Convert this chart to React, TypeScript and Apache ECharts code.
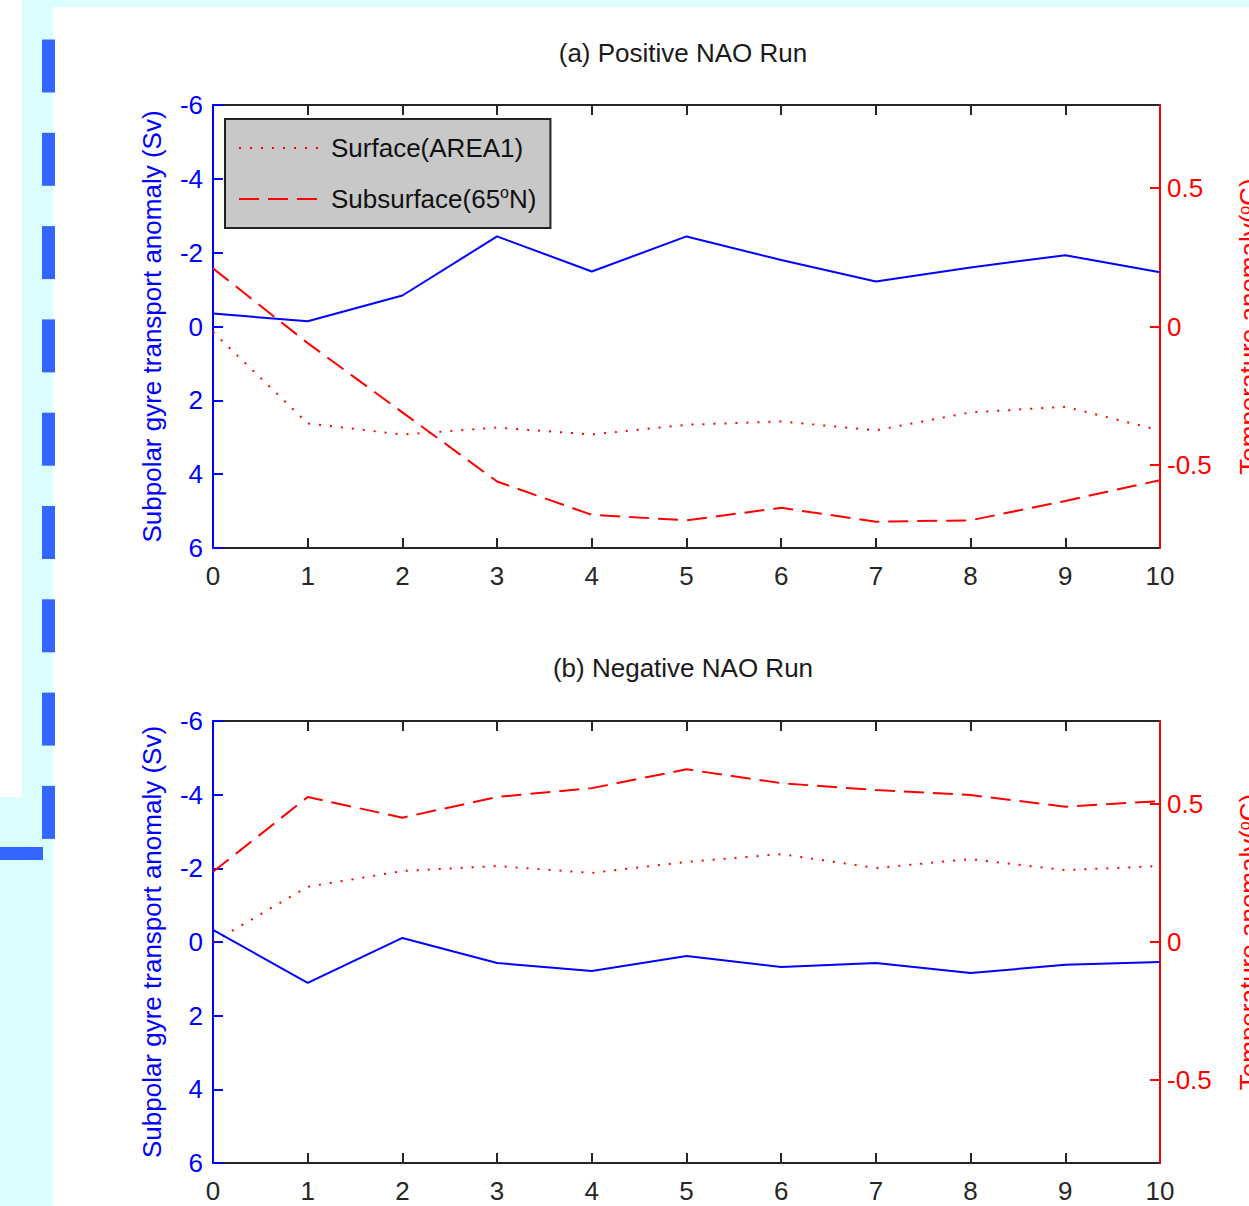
import React, { useEffect, useRef } from 'react';
import * as echarts from 'echarts';

// ---- data ----
const years = [0, 1, 2, 3, 4, 5, 6, 7, 8, 9, 10];
// (a) Positive NAO run
const posTransport = [-0.35, -0.14, -0.84, -2.44, -1.49, -2.44, -1.8, -1.22, -1.6, -1.93, -1.47];
const posSurface = [-0.02, -0.35, -0.39, -0.365, -0.39, -0.355, -0.343, -0.375, -0.31, -0.29, -0.375];
const posSubsurface = [0.21, -0.06, -0.31, -0.56, -0.68, -0.7, -0.655, -0.705, -0.7, -0.63, -0.555];
// (b) Negative NAO run
const negTransport = [-0.33, 1.11, -0.11, 0.57, 0.79, 0.38, 0.68, 0.57, 0.84, 0.62, 0.54];
const negSurface = [0.0, 0.2, 0.257, 0.275, 0.25, 0.29, 0.318, 0.268, 0.3, 0.26, 0.275];
const negSubsurface = [0.254, 0.525, 0.45, 0.525, 0.557, 0.625, 0.575, 0.55, 0.532, 0.49, 0.51];

const rightTickValues = [-0.5, 0, 0.5];
const panelTitles = ['(a) Positive NAO Run', '(b) Negative NAO Run'];
const legendNames = ['Surface(AREA1)', 'Subsurface(65oN)'];
const leftAxisName = 'Subpolar gyre transport anomaly (Sv)';
const rightAxisName = 'Temperature anomaly({sup|o}C)';

const FONT = '"Liberation Sans", Arial, Helvetica, sans-serif';
const BLUE = '#0000ff';
const RED = '#ff0000';
const BLACK = '#262626';
const FS = 26;

const pairs = (v: number[]) => years.map((x, i) => [x, v[i]]);

export default function App() {
  const ref = useRef<HTMLDivElement>(null);
  useEffect(() => {
    if (!ref.current) return;
    const chart = echarts.init(ref.current, null, { renderer: 'svg' });

    const grids = [
      { left: 213, top: 105, width: 947, height: 443, outerBoundsMode: 'none', containLabel: false },
      { left: 213, top: 721, width: 947, height: 442, outerBoundsMode: 'none', containLabel: false },
    ];

    const xAxes: any[] = [];
    const yAxes: any[] = [];
    grids.forEach((_, gi) => {
      const base = {
        type: 'value',
        gridIndex: gi,
        min: 0,
        max: 10,
        interval: 1,
        axisLine: { onZero: false, lineStyle: { color: BLACK, width: 2 } },
        axisTick: { inside: true, length: 10, lineStyle: { color: BLACK, width: 2 } },
        splitLine: { show: false },
      };
      xAxes.push({
        ...base,
        position: 'bottom',
        axisLabel: { color: BLACK, fontSize: FS, fontFamily: FONT, margin: 15 },
      });
      xAxes.push({ ...base, position: 'top', axisLabel: { show: false } });

      yAxes.push({
        type: 'value',
        gridIndex: gi,
        position: 'left',
        inverse: true,
        min: -6,
        max: 6,
        interval: 2,
        name: leftAxisName,
        nameLocation: 'middle',
        nameGap: 48,
        nameTextStyle: { color: BLUE, fontSize: FS, fontFamily: FONT },
        axisLine: { show: true, onZero: false, lineStyle: { color: BLUE, width: 2 } },
        axisTick: { show: true, inside: true, length: 10, lineStyle: { color: BLUE, width: 2 } },
        axisLabel: { color: BLUE, fontSize: FS, fontFamily: FONT, margin: 10 },
        splitLine: { show: false },
        z: 3,
      });
      yAxes.push({
        type: 'value',
        gridIndex: gi,
        position: 'right',
        min: -0.8,
        max: 0.8,
        name: rightAxisName,
        nameLocation: 'middle',
        nameGap: 76,
        nameTextStyle: {
          color: RED,
          fontSize: FS,
          fontFamily: FONT,
          rich: { sup: { color: RED, fontSize: 16, fontFamily: FONT, verticalAlign: 'top', lineHeight: 14 } },
        },
        axisLine: { show: true, onZero: false, lineStyle: { color: RED, width: 2 } },
        axisTick: { show: true, inside: true, length: 10, customValues: rightTickValues, lineStyle: { color: RED, width: 2 } },
        axisLabel: { customValues: rightTickValues, color: RED, fontSize: FS, fontFamily: FONT, margin: 7 },
        splitLine: { show: false },
        z: 3,
      });
    });

    const dotted = { color: RED, width: 2, type: [2, 9] };
    const dashed = { color: RED, width: 2, type: [20, 9] };
    const solid = { color: BLUE, width: 2 };
    const mk = (name: string, data: number[], xi: number, yi: number, ls: any) => ({
      type: 'line',
      name,
      xAxisIndex: xi,
      yAxisIndex: yi,
      data: pairs(data),
      symbol: 'none',
      showSymbol: false,
      lineStyle: ls,
      itemStyle: { color: ls.color },
      z: ls.color === BLUE ? 4 : 3,
    });

    const series = [
      mk('Transport (a)', posTransport, 0, 0, solid),
      mk(legendNames[0], posSurface, 0, 1, dotted),
      mk(legendNames[1], posSubsurface, 0, 1, dashed),
      mk('Transport (b)', negTransport, 2, 2, solid),
      mk('Surface(AREA1) (b)', negSurface, 2, 3, dotted),
      mk('Subsurface(65oN) (b)', negSubsurface, 2, 3, dashed),
    ];

    const deco: any[] = [
      { type: 'rect', shape: { x: 22, y: 0, width: 31, height: 1206 }, style: { fill: '#dbffff' }, silent: true },
      { type: 'rect', shape: { x: 22, y: 0, width: 1227, height: 7 }, style: { fill: '#dbffff' }, silent: true },
      { type: 'rect', shape: { x: 0, y: 797, width: 22, height: 409 }, style: { fill: '#dbffff' }, silent: true },
      { type: 'rect', shape: { x: 0, y: 847, width: 43, height: 13 }, style: { fill: '#3366ff' }, silent: true },
    ];
    for (let k = 0; k < 9; k++) {
      deco.push({
        type: 'rect',
        shape: { x: 42, y: 39.5 + k * 93.3, width: 13, height: 53 },
        style: { fill: '#3366ff' },
        silent: true,
      });
    }

    chart.setOption({
      animation: false,
      backgroundColor: '#ffffff',
      title: panelTitles.map((t, i) => ({
        text: t,
        left: 683,
        top: i === 0 ? 40 : 655,
        padding: 0,
        textAlign: 'center',
        textStyle: { color: '#1a1a1a', fontSize: FS, fontWeight: 'normal', fontFamily: FONT },
      })),
      legend: {
        data: legendNames,
        orient: 'vertical',
        left: 225,
        top: 119,
        itemWidth: 80,
        itemHeight: 14,
        itemGap: 21,
        padding: [14, 14, 14, 13],
        backgroundColor: '#c8c8c8',
        borderColor: '#222222',
        borderWidth: 2,
        selectedMode: false,
        itemStyle: { opacity: 0 },
        formatter: (n: string) => n.replace('65oN', '65{sup|o}N'),
        textStyle: {
          color: '#111111',
          fontSize: FS,
          fontFamily: FONT,
          lineHeight: 30,
          padding: [0, 0, 0, 7],
          rich: { sup: { color: '#111111', fontSize: 16, fontFamily: FONT, verticalAlign: 'top', lineHeight: 14 } },
        },
      },
      grid: grids,
      xAxis: xAxes,
      yAxis: yAxes,
      series,
      graphic: deco,
    });
    return () => chart.dispose();
  }, []);
  return (
    <div
      ref={ref}
      style={{ position: 'absolute', left: 0, top: 0, width: 1249, height: 1206 }}
    />
  );
}
